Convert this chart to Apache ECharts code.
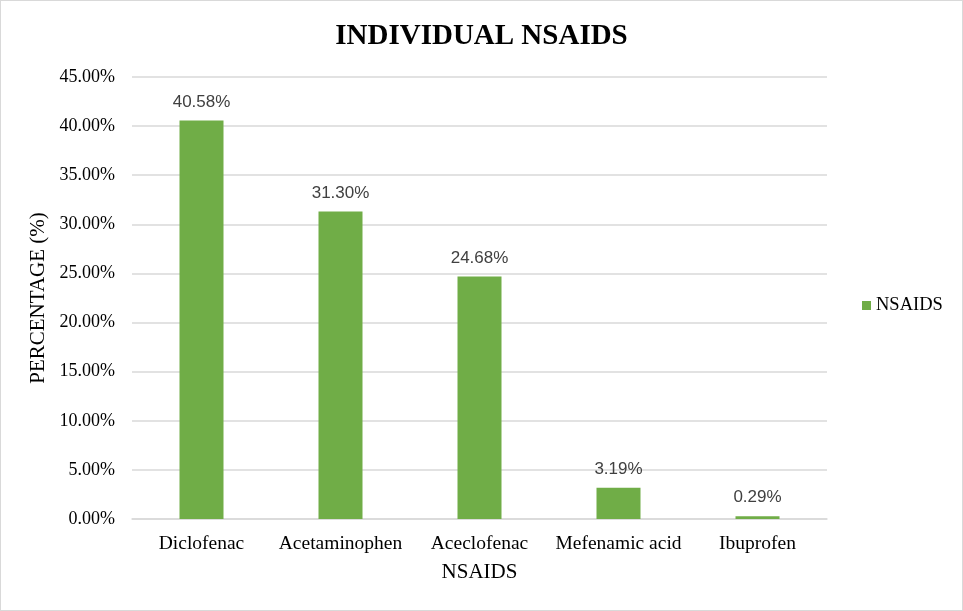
<!DOCTYPE html>
<html>
<head>
<meta charset="utf-8">
<script src="https://cdn.jsdelivr.net/npm/echarts@6/dist/echarts.min.js"></script>
<style>
  html, body { margin: 0; padding: 0; background: #fff; }
  #chart { width: 963px; height: 611px; box-sizing: border-box; border: 1px solid #d9d9d9; }
</style>
</head>
<body>
<div id="chart"></div>
<script>
// data
var drugs = ['Diclofenac', 'Acetaminophen', 'Aceclofenac', 'Mefenamic acid', 'Ibuprofen'];
var percent = [40.58, 31.30, 24.68, 3.19, 0.29];
var seriesName = 'NSAIDS';

var serif = '"Liberation Serif", "Times New Roman", serif';
var sans = '"Liberation Sans", Arial, sans-serif';

var chart = echarts.init(document.getElementById('chart'));
chart.setOption({
    animation: false,
    title: {
        text: 'INDIVIDUAL NSAIDS',
        left: 'center',
        top: 16,
        textStyle: { fontFamily: serif, fontWeight: 'bold', fontSize: 29, color: '#000' }
    },
    legend: {
        data: [seriesName],
        orient: 'vertical',
        left: 856,
        top: 'middle',
        icon: 'rect',
        itemWidth: 9,
        itemHeight: 9,
        itemGap: 5,
        textStyle: { fontFamily: serif, fontSize: 18.5, color: '#000' }
    },
    grid: { left: 131, right: 135, top: 76, bottom: 91 },
    xAxis: {
        type: 'category',
        data: drugs,
        name: 'NSAIDS',
        nameLocation: 'middle',
        nameGap: 43,
        nameTextStyle: { fontFamily: serif, fontSize: 21, color: '#000' },
        axisLine: { lineStyle: { color: '#d9d9d9', width: 1.5 } },
        axisTick: { show: false },
        axisLabel: { interval: 0, fontFamily: serif, fontSize: 19.5, color: '#000', margin: 15 }
    },
    yAxis: {
        type: 'value',
        min: 0,
        max: 45,
        interval: 5,
        name: 'PERCENTAGE (%)',
        nameLocation: 'middle',
        nameGap: 80,
        nameTextStyle: { fontFamily: serif, fontSize: 21, color: '#000' },
        axisLine: { show: false },
        axisTick: { show: false },
        splitLine: { lineStyle: { color: '#d9d9d9', width: 1.5 } },
        axisLabel: {
            fontFamily: serif, fontSize: 18, color: '#000', margin: 17,
            formatter: function (v) { return v.toFixed(2) + '%'; }
        }
    },
    series: [{
        name: seriesName,
        type: 'bar',
        data: percent,
        barWidth: 44,
        itemStyle: { color: '#70AD47' },
        label: {
            show: true,
            position: 'top',
            distance: 10,
            fontFamily: sans,
            fontSize: 17,
            color: '#404040',
            formatter: function (p) { return p.value.toFixed(2) + '%'; }
        }
    }]
});
</script>
</body>
</html>
